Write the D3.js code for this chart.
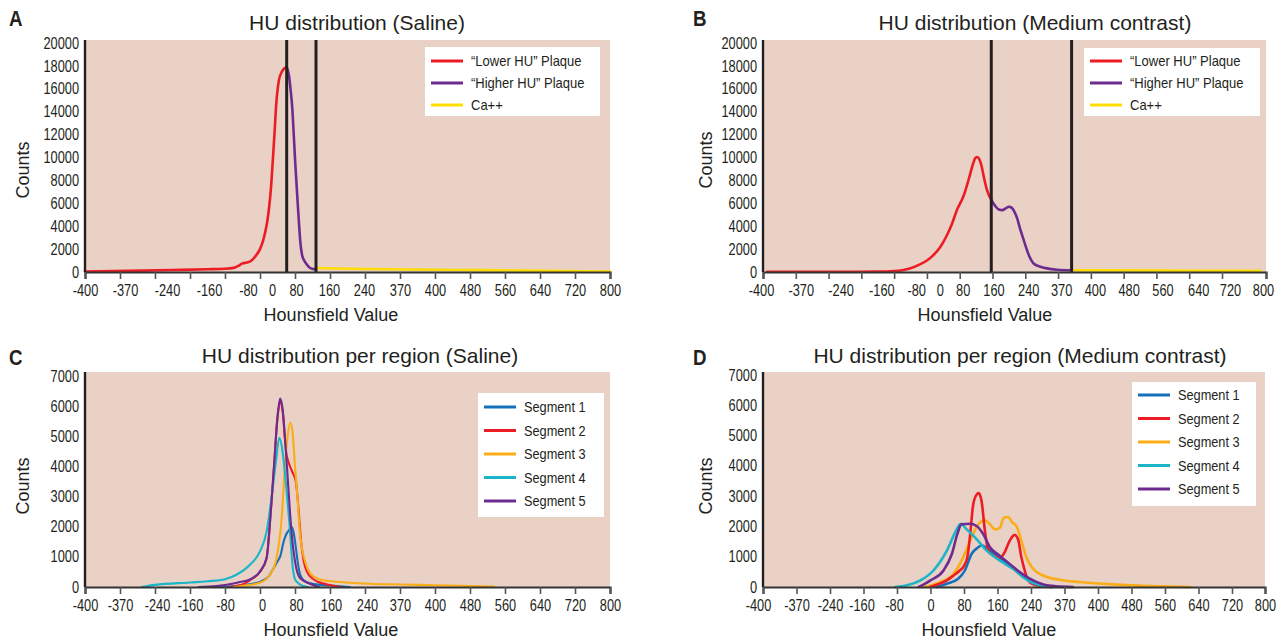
<!DOCTYPE html>
<html>
<head>
<meta charset="utf-8">
<script src="https://cdn.jsdelivr.net/npm/d3@7/dist/d3.min.js"></script>
<style>
  body { margin: 0; background: #fff; }
  svg text { font-family: "Liberation Sans", Arial, sans-serif; fill: #231f20; }
</style>
</head>
<body>
<svg id="chart" width="1287" height="640" viewBox="0 0 1287 640"></svg>
<script>
// ---- data ----
const huTickValues = [-400, -320, -240, -160, -80, 0, 80, 160, 240, 320, 400, 480, 560, 640, 720, 800];
const huTickLabels = ["-400", "-370", "-240", "-160", "-80", "0", "80", "160", "240", "370", "400", "480", "560", "640", "720", "800"];
const totalCountTicks = [0, 2000, 4000, 6000, 8000, 10000, 12000, 14000, 16000, 18000, 20000];
const regionCountTicks = [0, 1000, 2000, 3000, 4000, 5000, 6000, 7000];

const plaqueNames = ["\u201cLower HU\u201d Plaque", "\u201cHigher HU\u201d Plaque", "Ca++"];
const segmentNames = ["Segment 1", "Segment 2", "Segment 3", "Segment 4", "Segment 5"];

// threshold lines (HU)
const salineThresholds = [61, 128];
const contrastThresholds = [157, 353];

// A: saline, [HU, counts]
const salineLower = [[-400, 40], [-300, 100], [-200, 170], [-120, 240], [-80, 280], [-60, 360], [-50, 520], [-40, 750], [-30, 830], [-20, 980], [-10, 1400], [0, 2000], [6, 2600], [12, 3500], [17, 4500], [21, 5700], [25, 7300], [29, 9600], [33, 12000], [37, 14600], [43, 16700], [50, 17500], [56, 17800], [61, 17900]];
const salineHigher = [[61, 17900], [66, 17200], [70, 15900], [74, 14200], [77, 12100], [80, 9900], [83, 8000], [86, 6100], [89, 4300], [92, 2700], [96, 1500], [101, 1000], [106, 700], [116, 320], [128, 230]];
const salineCa = [[128, 350], [200, 290], [300, 240], [400, 200], [500, 160], [600, 120], [700, 80], [800, 50]];

// B: medium contrast
const contrastLower = [[-390, 20], [-200, 20], [-120, 30], [-80, 80], [-60, 160], [-40, 330], [-20, 620], [0, 1000], [15, 1450], [33, 2210], [50, 3300], [60, 4100], [73, 5400], [90, 6700], [102, 8100], [113, 9500], [118, 9950], [122, 10050], [127, 9900], [133, 9300], [140, 8100], [147, 7100], [157, 6300]];
const contrastHigher = [[157, 6300], [167, 5750], [176, 5450], [184, 5400], [192, 5550], [200, 5700], [207, 5600], [213, 5300], [220, 4700], [228, 3700], [237, 2700], [249, 1450], [261, 720], [275, 480], [290, 340], [318, 200], [353, 150]];
const contrastCa = [[353, 150], [450, 140], [550, 125], [650, 110], [790, 95]];

// C: saline per segment
const salineSeg1 = [[-90, 0], [-50, 40], [0, 170], [20, 350], [32, 650], [40, 850], [47, 1050], [53, 1450], [60, 1750], [66, 1880], [72, 2000], [77, 1800], [82, 1300], [87, 750], [92, 400], [100, 220], [115, 120], [140, 70], [170, 40], [205, 0]];
const salineSeg2 = [[-70, 0], [-40, 80], [-23, 230], [0, 500], [15, 940], [24, 2350], [32, 3980], [40, 5600], [46, 6150], [52, 5800], [57, 4900], [60, 4450], [64, 4200], [70, 3950], [76, 3750], [82, 3500], [88, 2600], [94, 1500], [100, 850], [109, 460], [120, 280], [132, 175], [150, 100], [183, 0]];
const salineSeg3 = [[-60, 0], [-30, 60], [0, 140], [23, 414], [38, 960], [50, 2380], [57, 4010], [63, 5000], [69, 5450], [74, 5200], [80, 4010], [86, 2900], [91, 1830], [97, 1200], [103, 850], [114, 470], [137, 250], [170, 180], [206, 140], [250, 110], [320, 85], [400, 60], [480, 35], [535, 15]];
const salineSeg4 = [[-270, 0], [-240, 70], [-160, 150], [-120, 190], [-80, 260], [-53, 414], [-23, 740], [0, 1180], [15, 1830], [27, 3030], [37, 4230], [44, 4950], [52, 4450], [59, 3470], [67, 2160], [75, 630], [82, 200], [99, 30], [110, 0]];
const salineSeg5 = [[-140, 0], [-100, 30], [-80, 65], [-50, 150], [-23, 250], [0, 520], [15, 960], [24, 2380], [32, 4010], [40, 5650], [46, 6250], [52, 5860], [58, 4770], [65, 3250], [72, 1830], [80, 850], [91, 305], [114, 110], [135, 0]];

// D: medium contrast per segment
const contrastSeg1 = [[15, 0], [39, 109], [66, 272], [82, 545], [98, 1090], [114, 1310], [122, 1380], [134, 1286], [154, 1090], [181, 763], [205, 545], [229, 327], [253, 130], [276, 33], [290, 0]];
const contrastSeg2 = [[-1, 0], [20, 100], [39, 218], [55, 380], [70, 545], [80, 700], [88, 980], [94, 1635], [102, 2725], [110, 3050], [115, 3100], [122, 2830], [130, 1850], [138, 1200], [150, 1035], [165, 960], [177, 1145], [189, 1525], [201, 1720], [209, 1580], [217, 980], [225, 545], [233, 218], [253, 55], [290, 0]];
const contrastSeg3 = [[-17, 0], [23, 163], [55, 436], [78, 980], [98, 1635], [114, 2070], [130, 2200], [142, 2070], [154, 1900], [166, 1960], [175, 2290], [185, 2310], [196, 2125], [205, 2015], [217, 1525], [229, 980], [245, 600], [269, 380], [308, 240], [356, 163], [435, 87], [498, 44], [560, 20], [620, 0]];
const contrastSeg4 = [[-84, 0], [-56, 55], [-24, 218], [7, 545], [39, 1200], [59, 1800], [72, 2090], [86, 1910], [110, 1580], [134, 1200], [166, 870], [197, 600], [221, 327], [245, 130], [268, 44], [290, 0]];
const contrastSeg5 = [[-28, 0], [0, 218], [31, 545], [51, 1090], [64, 1745], [74, 2070], [94, 2090], [110, 2015], [126, 1745], [142, 1310], [165, 1035], [189, 763], [213, 490], [237, 273], [268, 87], [300, 20], [340, 0]];

// ---- styles ----
const plaqueColors = ["#ed1c24", "#6d2b8f", "#ffdd00"];
const segmentColors = ["#1470bb", "#ed1c24", "#fbad18", "#1ab5c8", "#6d2b8f"];
const bgColor = "#e9d1c6";
const tickSqueeze = 0.8;

const svg = d3.select("#chart");

// panel layouts (xBreaks: pixel positions for HU -400, 720, 800)
const panels = [
    {
        letter: "A", letterPos: [9, 26],
        title: "HU distribution (Saline)", titlePos: [357, 30],
        box: {l: 85, r: 610, t: 40, b: 272}, yTop: 43, xBreaks: [85, 575, 610],
        yTicks: totalCountTicks, yMax: 20000,
        series: [salineLower, salineHigher, salineCa], names: plaqueNames, colors: plaqueColors,
        lineWidth: 2.6, thresholds: salineThresholds,
        legend: {x: 425, y: 47, w: 175, h: 69, first: 14, gap: 22, size: 14, squeeze: 0.93},
        countsPos: [23, 170], xTitlePos: [331, 321],
        labelNudge: [0, 5, 12, 19, 23, 12, 1, -1, -1, 0, 0, 0, 0, 0, 0, 0]
    },
    {
        letter: "B", letterPos: [693, 26],
        title: "HU distribution (Medium contrast)", titlePos: [1035, 30],
        box: {l: 763, r: 1266, t: 40, b: 272}, yTop: 43, xBreaks: [763, 1222, 1266],
        yTicks: totalCountTicks, yMax: 20000,
        series: [contrastLower, contrastHigher, contrastCa], names: plaqueNames, colors: plaqueColors,
        lineWidth: 2.6, thresholds: contrastThresholds,
        legend: {x: 1084, y: 48, w: 176, h: 68, first: 13, gap: 22, size: 14, squeeze: 0.93},
        countsPos: [706, 160], xTitlePos: [985, 321],
        labelNudge: [-2, 5, 12, 20, 22, 13, 3, 1, 3, 3, 4, 5, 6, 9, 8, -3]
    },
    {
        letter: "C", letterPos: [9, 365],
        title: "HU distribution per region (Saline)", titlePos: [360, 363],
        box: {l: 85, r: 610, t: 372, b: 587}, yTop: 376, xBreaks: [85, 575, 610],
        yTicks: regionCountTicks, yMax: 7000,
        series: [salineSeg1, salineSeg2, salineSeg3, salineSeg4, salineSeg5], names: segmentNames, colors: segmentColors,
        lineWidth: 2.1, thresholds: [],
        legend: {x: 478, y: 393, w: 126, h: 124, first: 14, gap: 23.5, size: 15, squeeze: 0.85},
        countsPos: [23, 486], xTitlePos: [331, 636],
        labelNudge: [0, 0, 2, 0, 0, 2, 1, 1, 2, 0, 0, 0, 0, 0, 0, 0]
    },
    {
        letter: "D", letterPos: [693, 365],
        title: "HU distribution per region (Medium contrast)", titlePos: [1020, 363],
        box: {l: 763, r: 1265, t: 372, b: 587}, yTop: 375, xBreaks: [763, 1232, 1265],
        yTicks: regionCountTicks, yMax: 7000,
        series: [contrastSeg1, contrastSeg3, contrastSeg2, contrastSeg4, contrastSeg5], names: segmentNames,
        colors: [segmentColors[0], segmentColors[2], segmentColors[1], segmentColors[3], segmentColors[4]],
        legendOrder: [0, 2, 1, 3, 4],
        lineWidth: 2.6, thresholds: [],
        legend: {x: 1132, y: 382, w: 124, h: 124, first: 13, gap: 23.5, size: 15, squeeze: 0.85},
        countsPos: [706, 486], xTitlePos: [989, 636],
        labelNudge: [-5, 0, 0, -2, -3, 0, 0, 0, 0, 0, 0, 0, 0, 0, 0, 0]
    }
];

function drawPanel(p) {
    const g = svg.append("g");
    // evenly spaced up to 720, the 800 tick sits on the plot edge
    const x = d3.scaleLinear().domain([-400, 720, 800]).range(p.xBreaks);
    const y = d3.scaleLinear().domain([0, p.yMax]).range([p.box.b, p.yTop]);

    // plot background
    g.append("rect")
        .attr("x", p.box.l).attr("y", p.box.t)
        .attr("width", p.box.r - p.box.l).attr("height", p.box.b - p.box.t)
        .style("fill", bgColor);

    // curves
    const line = d3.line()
        .x(d => x(d[0]))
        .y(d => y(d[1]))
        .curve(d3.curveMonotoneX);
    p.series.forEach((s, i) => {
        g.append("path")
            .datum(s)
            .attr("d", line)
            .style("fill", "none")
            .style("stroke", p.colors[i])
            .style("stroke-width", p.lineWidth)
            .style("stroke-linejoin", "round")
            .style("stroke-linecap", "round");
    });

    // threshold lines
    g.selectAll(".thr")
        .data(p.thresholds)
        .join("line")
        .attr("x1", d => x(d)).attr("x2", d => x(d))
        .attr("y1", p.box.t).attr("y2", p.box.b)
        .style("stroke", "#231f20")
        .style("stroke-width", 3);

    // x axis
    const xAxis = d3.axisBottom(x)
        .tickValues(huTickValues)
        .tickFormat((d, i) => huTickLabels[i])
        .tickSize(7)
        .tickPadding(6);
    const gx = g.append("g")
        .attr("transform", "translate(0," + p.box.b + ")")
        .call(xAxis);
    gx.select(".domain").style("stroke", "#333").style("stroke-width", 2.2);
    gx.selectAll(".tick line").style("stroke", "#555").style("stroke-width", 1.6);
    gx.selectAll(".tick text")
        .style("font-size", "16px")
        .attr("x", (d, i) => p.labelNudge[i] / tickSqueeze)
        .attr("transform", "scale(" + tickSqueeze + ",1)");

    // y axis
    const yAxis = d3.axisLeft(y)
        .tickValues(p.yTicks)
        .tickFormat(d3.format("d"))
        .tickSize(0);
    const gy = g.append("g")
        .attr("transform", "translate(" + p.box.l + ",0)")
        .call(yAxis);
    gy.select(".domain").remove();
    gy.append("line")
        .attr("x1", 0).attr("x2", 0)
        .attr("y1", p.box.t).attr("y2", p.box.b)
        .style("stroke", "#231f20").style("stroke-width", 2.4);
    gy.selectAll(".tick text")
        .style("font-size", "16px")
        .attr("x", -6 / tickSqueeze)
        .attr("transform", "scale(" + tickSqueeze + ",1)");

    // legend
    const L = p.legend;
    const lg = g.append("g").attr("transform", "translate(" + L.x + "," + L.y + ")");
    lg.append("rect").attr("width", L.w).attr("height", L.h).style("fill", "#fff");
    const order = p.legendOrder || p.names.map((d, i) => i);
    const rows = lg.selectAll(".row")
        .data(p.names)
        .join("g")
        .attr("transform", (d, i) => "translate(0," + (L.first + i * L.gap) + ")");
    rows.append("line")
        .attr("x1", 6).attr("x2", 38)
        .style("stroke", (d, i) => p.colors[order[i]])
        .style("stroke-width", 3);
    rows.append("text")
        .attr("transform", "translate(46,0) scale(" + L.squeeze + ",1)")
        .attr("dy", "0.36em")
        .style("font-size", L.size + "px")
        .text(d => d);

    // titles
    g.append("text")
        .attr("x", p.titlePos[0]).attr("y", p.titlePos[1])
        .attr("text-anchor", "middle")
        .style("font-size", "21px")
        .text(p.title);
    g.append("text")
        .attr("transform", "translate(" + p.letterPos[0] + "," + p.letterPos[1] + ") scale(0.85,1)")
        .style("font-size", "22px")
        .style("font-weight", "bold")
        .text(p.letter);
    g.append("text")
        .attr("transform", "translate(" + p.countsPos[0] + "," + p.countsPos[1] + ") rotate(-90)")
        .attr("text-anchor", "middle")
        .attr("dy", "0.35em")
        .style("font-size", "18px")
        .text("Counts");
    g.append("text")
        .attr("x", p.xTitlePos[0]).attr("y", p.xTitlePos[1])
        .attr("text-anchor", "middle")
        .style("font-size", "18px")
        .text("Hounsfield Value");
}

panels.forEach(drawPanel);
</script>
</body>
</html>
